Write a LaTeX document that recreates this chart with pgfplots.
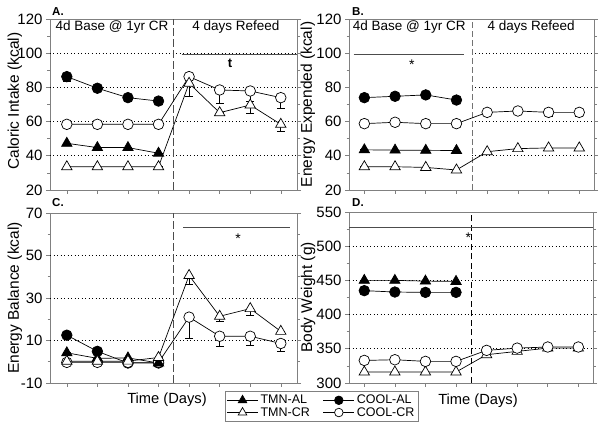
\documentclass[border=0pt]{standalone}
\usepackage{fontspec}
\setmainfont{Liberation Sans}
\usepackage{pgfplots}
\pgfplotsset{compat=1.18}

\tikzset{
  grd/.style={black, line width=0.7pt, dash pattern=on 0.9pt off 2.6pt},
  sig/.style={black!70, line width=0.8pt},
  vdash/.style={black!70, line width=0.8pt, dash pattern=on 8pt off 3pt},
  ptext/.style={font=\fontsize{13.5}{14}\selectfont},
}
\pgfplotsset{
  panel/.style={
    scale only axis,
    anchor=south west,
    xtick={1,...,8}, xticklabels={},
    xtick pos=left, ytick pos=both,
    tick align=outside,
    major tick length=4pt, minor tick length=2.5pt,
    minor y tick num=1,
    axis line style={gray},
    every tick/.style={gray, line width=0.6pt},
    tick label style={font=\fontsize{15}{15}\selectfont},
    /pgf/number format/assume math mode=true,
    ylabel style={font=\fontsize{15.5}{16}\selectfont, inner sep=0pt, anchor=center},
    clip=false,
  },
  ser/.style={black, line width=0.7pt,
    error bars/y dir=minus, error bars/y explicit,
    error bars/error bar style={black, line width=0.7pt, solid},
    error bars/error mark options={rotate=90, mark size=4pt, black, line width=0.7pt}},
  tmnal/.style={ser, mark=triangle*, mark size=6pt, mark options={fill=black, solid}},
  tmncr/.style={ser, mark=triangle*, mark size=6pt, mark options={fill=white, solid}},
  coolal/.style={ser, mark=*, mark size=5.3pt, mark options={fill=black, solid}},
  coolcr/.style={ser, mark=*, mark size=5.3pt, mark options={fill=white, solid}},
}

\begin{document}
\begin{tikzpicture}
\useasboundingbox (0pt,0pt) rectangle (600pt,435pt);

% ---------------- Panel A ----------------
\begin{axis}[panel, at={(50pt,245pt)}, width=247pt, height=171pt,
  xmin=0.45, xmax=8.53, ymin=20, ymax=120, ytick={20,40,...,120},
  ylabel={Caloric Intake (kcal)},
  ylabel style={at={(axis description cs:-0.142,0.52)}}]
\draw[grd] (axis cs:0.45,40) -- (axis cs:8.53,40);
\draw[grd] (axis cs:0.45,60) -- (axis cs:8.53,60);
\draw[grd] (axis cs:0.45,80) -- (axis cs:8.53,80);
\draw[grd] (axis cs:0.45,100) -- (axis cs:8.53,100);
\draw[vdash] (axis cs:4.5,20) -- (axis cs:4.5,120);
\draw[sig] (axis cs:4.76,99.5) -- (axis cs:8.53,99.5);
\node[font=\bfseries\fontsize{13}{13}\selectfont] at (axis cs:6.34,94.3) {t};
\node[ptext] at (axis cs:2.48,115.5) {4d Base @ 1yr CR};
\node[ptext] at (axis cs:6.53,115.5) {4 days Refeed};
\addplot[coolal] coordinates {(1,86.3) +- (0,3) (2,79.5) +- (0,2) (3,74) +- (0,2) (4,72) +- (0,2)};
\addplot[coolcr] coordinates {(1,58.4) +- (0,0) (2,58.4) +- (0,0) (3,58.4) +- (0,0) (4,58.4) +- (0,0)
  (5,86.3) +- (0,0) (6,78.5) +- (0,7.8) (7,77.9) +- (0,6.2) (8,74) +- (0,6.2)};
\addplot[tmnal] coordinates {(1,47.3) +- (0,0) (2,44.8) +- (0,0) (3,44.8) +- (0,0) (4,41.5) +- (0,0)};
\addplot[tmncr] coordinates {(1,33.6) +- (0,0) (2,33.6) +- (0,0) (3,33.6) +- (0,0) (4,33.6) +- (0,0)
  (5,82.4) +- (0,7.8) (6,65.2) +- (0,0) (7,69.7) +- (0,4.9) (8,58.4) +- (0,4.3)};
\end{axis}

% ---------------- Panel B ----------------
\begin{axis}[panel, at={(349pt,245pt)}, width=245pt, height=171pt,
  xmin=0.5, xmax=8.48, ymin=20, ymax=120, ytick={20,40,...,120},
  ylabel={Energy Expended (kcal)},
  ylabel style={at={(axis description cs:-0.168,0.5)}}]
\draw[grd] (axis cs:4.5,40) -- (axis cs:8.48,40);
\draw[grd] (axis cs:4.5,60) -- (axis cs:8.48,60);
\draw[grd] (axis cs:4.5,80) -- (axis cs:8.48,80);
\draw[grd] (axis cs:4.5,100) -- (axis cs:8.48,100);
\draw[black!55, line width=0.6pt, dash pattern=on 6pt off 3pt] (axis cs:4.5,20) -- (axis cs:4.5,120);
\draw[sig] (axis cs:0.65,99.2) -- (axis cs:4.23,99.2);
\node[font=\fontsize{14}{14}\selectfont] at (axis cs:2.55,93.5) {*};
\node[ptext] at (axis cs:2.46,115.5) {4d Base @ 1yr CR};
\node[ptext] at (axis cs:6.43,115.5) {4 days Refeed};
\addplot[coolal] coordinates {(1,74) +- (0,1) (2,74.8) +- (0,1) (3,75.6) +- (0,1) (4,72.6) +- (0,1)};
\addplot[coolcr] coordinates {(1,58.8) +- (0,1) (2,59.6) +- (0,1) (3,58.8) +- (0,1) (4,58.8) +- (0,1)
  (5,65.4) +- (0,2) (6,66.2) +- (0,2) (7,65.4) +- (0,2.5) (8,65.4) +- (0,2.5)};
\addplot[tmnal] coordinates {(1,43.5) +- (0,0) (2,43.3) +- (0,0) (3,43.2) +- (0,0) (4,43.1) +- (0,0)};
\addplot[tmncr] coordinates {(1,33.6) +- (0,0) (2,33.6) +- (0,0) (3,33.2) +- (0,0) (4,31.7) +- (0,0)
  (5,42.4) +- (0,0) (6,44.2) +- (0,0) (7,44.6) +- (0,0) (8,44.6) +- (0,0)};
\end{axis}

% ---------------- Panel C ----------------
\begin{axis}[panel, at={(50pt,52pt)}, width=247pt, height=170pt,
  xmin=0.45, xmax=8.53, ymin=-10, ymax=70, ytick={-10,10,...,70},
  ylabel={Energy Balance (kcal)},
  ylabel style={at={(axis description cs:-0.142,0.5)}}]
\draw[grd] (axis cs:0.45,10) -- (axis cs:8.53,10);
\draw[grd] (axis cs:0.45,30) -- (axis cs:8.53,30);
\draw[grd] (axis cs:0.45,50) -- (axis cs:8.53,50);
\draw[vdash] (axis cs:4.5,-10) -- (axis cs:4.5,70);
\draw[sig] (axis cs:4.81,63.4) -- (axis cs:8.3,63.4);
\node[font=\fontsize{14}{14}\selectfont] at (axis cs:6.6,58) {*};
\addplot[coolal] coordinates {(1,12.5) +- (0,1.5) (2,4.9) +- (0,1) (3,-0.6) +- (0,1.5) (4,-0.6) +- (0,1)};
\addplot[coolcr] coordinates {(1,-0.3) +- (0,0) (2,-0.3) +- (0,0) (3,-0.3) +- (0,0) (4,-0.3) +- (0,0)
  (5,21) +- (0,9.9) (6,12) +- (0,4.8) (7,12) +- (0,4.5) (8,8.6) +- (0,3.6)};
\addplot[tmnal] coordinates {(1,4.2) +- (0,0) (2,1.6) +- (0,0) (3,1.8) +- (0,0) (4,-0.6) +- (0,0)};
\addplot[tmncr] coordinates {(1,0.2) +- (0,0) (2,0.2) +- (0,0) (3,0.3) +- (0,0) (4,2.0) +- (0,0)
  (5,40.6) +- (0,4.3) (6,21.4) +- (0,2.4) (7,25) +- (0,3) (8,14.3) +- (0,0)};
\end{axis}

% ---------------- Panel D ----------------
\begin{axis}[panel, at={(349pt,52pt)}, width=244pt, height=171pt,
  xmin=0.5, xmax=8.48, ymin=300, ymax=550, ytick={300,350,...,550},
  ylabel={Body Weight (g)},
  ylabel style={at={(axis description cs:-0.168,0.5)}},
  legend style={at={(-0.1127,-0.137)}, anchor=center, draw=gray,
    font=\fontsize{12.5}{13}\selectfont, inner sep=1.5pt, row sep=-2pt,
    /tikz/every even column/.append style={column sep=11pt}},
  legend columns=2, legend cell align=left,
  legend image code/.code={\draw[mark repeat=2,mark phase=2] plot coordinates {(0cm,0cm) (0.55cm,0cm) (1.1cm,0cm)};}]
\draw[grd] (axis cs:0.5,350) -- (axis cs:8.48,350);
\draw[grd] (axis cs:0.5,400) -- (axis cs:8.48,400);
\draw[grd] (axis cs:0.5,450) -- (axis cs:8.48,450);
\draw[grd] (axis cs:0.5,500) -- (axis cs:8.48,500);
\draw[black, line width=0.9pt, dash pattern=on 6pt off 3.5pt] (axis cs:4.5,300) -- (axis cs:4.5,550);
\draw[sig] (axis cs:0.5,527.5) -- (axis cs:8.48,527.5);
\node[font=\fontsize{14}{14}\selectfont] at (axis cs:4.4,513) {*};
\addplot[coolal, forget plot] coordinates {(1,435) +- (0,4) (2,433) +- (0,4) (3,432.5) +- (0,4) (4,432.5) +- (0,4)};
\addplot[tmnal, forget plot] coordinates {(1,450) +- (0,0) (2,450) +- (0,0) (3,449) +- (0,0) (4,448.5) +- (0,0)};
\addplot[tmncr, forget plot] coordinates {(1,316) +- (0,0) (2,316) +- (0,0) (3,316) +- (0,0) (4,316) +- (0,0)
  (5,341.4) +- (0,3) (6,346.2) +- (0,3) (7,351) +- (0,4) (8,351) +- (0,4)};
\addplot[coolcr, forget plot] coordinates {(1,333) +- (0,0) (2,334) +- (0,0) (3,331.6) +- (0,0) (4,331.6) +- (0,0)
  (5,347.7) +- (0,0) (6,351) +- (0,0) (7,352.6) +- (0,0) (8,352.6) +- (0,0)};
\addlegendimage{black, line width=0.7pt, mark=triangle*, mark size=5pt, mark options={fill=black}}
\addlegendimage{black, line width=0.7pt, mark=*, mark size=4.3pt, mark options={fill=black}}
\addlegendimage{black, line width=0.7pt, mark=triangle*, mark size=5pt, mark options={fill=white}}
\addlegendimage{black, line width=0.7pt, mark=*, mark size=4.3pt, mark options={fill=white}}
\legend{TMN-AL, COOL-AL, TMN-CR, COOL-CR}
\end{axis}

% panel letters and x labels
\node[anchor=west, font=\bfseries\fontsize{11.5}{12}\selectfont, inner sep=0pt] at (52pt,423pt) {A.};
\node[anchor=west, font=\bfseries\fontsize{11.5}{12}\selectfont, inner sep=0pt] at (352pt,423pt) {B.};
\node[anchor=west, font=\bfseries\fontsize{11.5}{12}\selectfont, inner sep=0pt] at (52pt,232pt) {C.};
\node[anchor=west, font=\bfseries\fontsize{11.5}{12}\selectfont, inner sep=0pt] at (352pt,232pt) {D.};
\node[font=\fontsize{14.7}{15}\selectfont] at (167pt,35pt) {Time (Days)};
\node[font=\fontsize{14.7}{15}\selectfont] at (478pt,34pt) {Time (Days)};
\end{tikzpicture}
\end{document}
